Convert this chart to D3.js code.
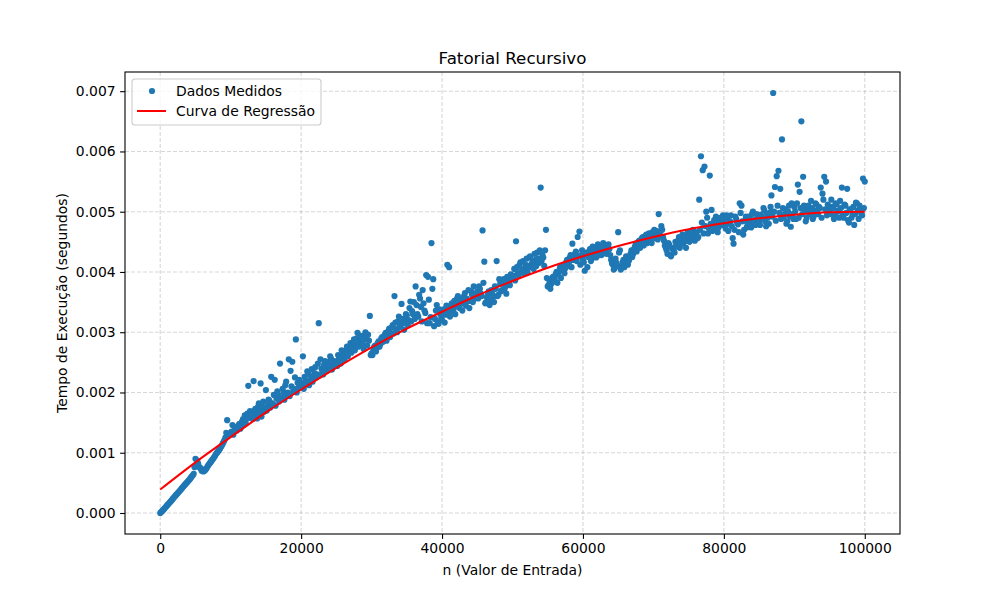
<!DOCTYPE html>
<html lang="pt">
<head>
<meta charset="utf-8">
<title>Fatorial Recursivo</title>
<script src="https://d3js.org/d3.v7.min.js"></script>
<style>
  body { margin: 0; background: #fff; }
  text { font-family: "DejaVu Sans", sans-serif; fill: #000; }
  .tick text { font-size: 13.9px; }
  .grid line { stroke: #b0b0b0; stroke-opacity: 0.5; stroke-width: 1.1; stroke-dasharray: 4,2; }
</style>
</head>
<body>
<div id="chart"></div>
<script>
// valores de entrada (n), primeira serie de medicoes
var entradas = [
  0,250,500,750,1000,1250,1500,1750,2000,2250,2500,2750,3000,3250,3500,3750,4000,4250,4500,4750,
  5000,5250,5500,5750,6000,6250,6500,6750,7000,7250,7500,7750,8000,8250,8500,8750,9000,9250,9500,9750,
  10000,10250,10500,10750,11000,11250,11500,11750,12000,12250,12500,12750,13000,13250,13500,13750,14000,14250,14500,14750,
  15000,15250,15500,15750,16000,16250,16500,16750,17000,17250,17500,17750,18000,18250,18500,18750,19000,19250,19500,19750,
  20000,20250,20500,20750,21000,21250,21500,21750,22000,22250,22500,22750,23000,23250,23500,23750,24000,24250,24500,24750,
  25000,25250,25500,25750,26000,26250,26500,26750,27000,27250,27500,27750,28000,28250,28500,28750,29000,29250,29500,29750,
  30000,30250,30500,30750,31000,31250,31500,31750,32000,32250,32500,32750,33000,33250,33500,33750,34000,34250,34500,34750,
  35000,35250,35500,35750,36000,36250,36500,36750,37000,37250,37500,37750,38000,38250,38500,38750,39000,39250,39500,39750,
  40000,40250,40500,40750,41000,41250,41500,41750,42000,42250,42500,42750,43000,43250,43500,43750,44000,44250,44500,44750,
  45000,45250,45500,45750,46000,46250,46500,46750,47000,47250,47500,47750,48000,48250,48500,48750,49000,49250,49500,49750,
  50000,50250,50500,50750,51000,51250,51500,51750,52000,52250,52500,52750,53000,53250,53500,53750,54000,54250,54500,54750,
  55000,55250,55500,55750,56000,56250,56500,56750,57000,57250,57500,57750,58000,58250,58500,58750,59000,59250,59500,59750,
  60000,60250,60500,60750,61000,61250,61500,61750,62000,62250,62500,62750,63000,63250,63500,63750,64000,64250,64500,64750,
  65000,65250,65500,65750,66000,66250,66500,66750,67000,67250,67500,67750,68000,68250,68500,68750,69000,69250,69500,69750,
  70000,70250,70500,70750,71000,71250,71500,71750,72000,72250,72500,72750,73000,73250,73500,73750,74000,74250,74500,74750,
  75000,75250,75500,75750,76000,76250,76500,76750,77000,77250,77500,77750,78000,78250,78500,78750,79000,79250,79500,79750,
  80000,80250,80500,80750,81000,81250,81500,81750,82000,82250,82500,82750,83000,83250,83500,83750,84000,84250,84500,84750,
  85000,85250,85500,85750,86000,86250,86500,86750,87000,87250,87500,87750,88000,88250,88500,88750,89000,89250,89500,89750,
  90000,90250,90500,90750,91000,91250,91500,91750,92000,92250,92500,92750,93000,93250,93500,93750,94000,94250,94500,94750,
  95000,95250,95500,95750,96000,96250,96500,96750,97000,97250,97500,97750,98000,98250,98500,98750,99000,99250,99500,99750,
  100000
];

// tempos da primeira serie, em microssegundos
var temposUs = [
  0,30,60,95,130,160,195,230,265,300,330,365,400,435,470,500,535,570,610,650,
  900,870,770,740,720,700,730,780,820,860,900,940,990,1030,1070,1120,1180,1250,1540,1300,
  1330,1460,1360,1390,1430,1480,1440,1560,1620,1580,2110,1690,1650,2190,1730,1570,1820,2150,1760,1680,
  2040,1790,1860,2260,1810,2210,1900,1960,2480,1920,2010,2120,1960,2550,2360,2510,2060,2880,2160,2210,
  2090,2600,2260,2140,2310,2190,2390,2240,2420,2300,3150,2550,2340,2460,2380,2510,2420,2560,2470,2520,
  2500,2620,2560,2700,2640,2590,2760,2680,2820,2740,2880,2790,2990,2850,2920,2800,2950,2880,2960,3270,
  2650,2700,2780,2740,2850,2800,2920,2880,2990,2930,3060,2980,3120,3600,3050,3180,3100,3470,3220,3150,
  3280,3200,3510,3350,3500,3760,3300,3620,3420,3700,3360,3950,3920,3150,4480,3880,3220,3450,3140,3300,
  3200,3380,3290,4120,4080,3420,3350,3520,3460,3600,3400,3550,3480,3650,3560,3700,3520,3620,3760,3580,
  3680,3760,3640,4690,4170,3500,3620,3450,3700,3580,3760,4180,3620,3800,3700,3880,3760,3920,3820,3960,
  3880,4050,4510,3980,4120,4000,4180,4060,4220,4100,4260,4140,4050,4200,4320,4150,5400,4280,4100,4700,
  3760,3850,3800,3920,3880,4000,3960,4080,4030,4120,4060,4200,4150,4280,4470,4220,4340,4580,4670,4280,
  4200,4020,4320,4250,4380,4220,4300,4400,4260,4350,4420,4300,4450,4340,4420,4380,4200,4120,4060,4150,
  4660,4360,4100,4200,4150,4250,4180,4300,4250,4380,4470,4420,4520,4460,4580,4500,4620,4540,4600,4480,
  4640,4560,4680,4960,4600,4700,4520,4400,4300,4450,4260,4380,4320,4460,4520,4400,4560,4480,4600,4520,
  4580,4640,4540,4600,4660,4560,5200,5920,5690,5750,5000,4640,5600,5030,4760,4700,4820,4740,4900,4780,
  4860,4720,4900,4800,4940,4560,4700,4880,4790,5140,5100,4620,4850,4740,4920,4800,4960,4860,4780,4900,
  4820,4950,4880,5020,4760,4900,4980,5270,6970,5410,5590,5680,5380,6200,4900,5040,4840,5100,4750,4960,
  5080,4880,5450,5330,6500,5580,5020,4900,5100,4960,5060,4920,5140,5000,5080,5400,5300,5580,5500,5120,
  5000,5200,5060,4950,5120,5020,5180,5400,4900,5100,5380,4820,5040,4960,4780,5150,5020,5100,4960,5550,
  5500
];

// segunda serie de medicoes, intercalada
var entradas2 = [
  125,375,625,875,1125,1375,1625,1875,2125,2375,2625,2875,3125,3375,3625,3875,4125,4375,4625,4875,
  5125,5375,5625,5875,6125,6375,6625,6875,7125,7375,7625,7875,8125,8375,8625,8875,9125,9375,9625,9875,
  10125,10375,10625,10875,11125,11375,11625,11875,12125,12375,12625,12875,13125,13375,13625,13875,14125,14375,14625,14875,
  15125,15375,15625,15875,16125,16375,16625,16875,17125,17375,17625,17875,18125,18375,18625,18875,19125,19375,19625,19875,
  20125,20375,20625,20875,21125,21375,21625,21875,22125,22375,22625,22875,23125,23375,23625,23875,24125,24375,24625,24875,
  25125,25375,25625,25875,26125,26375,26625,26875,27125,27375,27625,27875,28125,28375,28625,28875,29125,29375,29625,29875,
  30125,30375,30625,30875,31125,31375,31625,31875,32125,32375,32625,32875,33125,33375,33625,33875,34125,34375,34625,34875,
  35125,35375,35625,35875,36125,36375,36625,36875,37125,37375,37625,37875,38125,38375,38625,38875,39125,39375,39625,39875,
  40125,40375,40625,40875,41125,41375,41625,41875,42125,42375,42625,42875,43125,43375,43625,43875,44125,44375,44625,44875,
  45125,45375,45625,45875,46125,46375,46625,46875,47125,47375,47625,47875,48125,48375,48625,48875,49125,49375,49625,49875,
  50125,50375,50625,50875,51125,51375,51625,51875,52125,52375,52625,52875,53125,53375,53625,53875,54125,54375,54625,54875,
  55125,55375,55625,55875,56125,56375,56625,56875,57125,57375,57625,57875,58125,58375,58625,58875,59125,59375,59625,59875,
  60125,60375,60625,60875,61125,61375,61625,61875,62125,62375,62625,62875,63125,63375,63625,63875,64125,64375,64625,64875,
  65125,65375,65625,65875,66125,66375,66625,66875,67125,67375,67625,67875,68125,68375,68625,68875,69125,69375,69625,69875,
  70125,70375,70625,70875,71125,71375,71625,71875,72125,72375,72625,72875,73125,73375,73625,73875,74125,74375,74625,74875,
  75125,75375,75625,75875,76125,76375,76625,76875,77125,77375,77625,77875,78125,78375,78625,78875,79125,79375,79625,79875,
  80125,80375,80625,80875,81125,81375,81625,81875,82125,82375,82625,82875,83125,83375,83625,83875,84125,84375,84625,84875,
  85125,85375,85625,85875,86125,86375,86625,86875,87125,87375,87625,87875,88125,88375,88625,88875,89125,89375,89625,89875,
  90125,90375,90625,90875,91125,91375,91625,91875,92125,92375,92625,92875,93125,93375,93625,93875,94125,94375,94625,94875,
  95125,95375,95625,95875,96125,96375,96625,96875,97125,97375,97625,97875,98125,98375,98625,98875,99125,99375,99625,99875
];

var temposUs2 = [
  15,45,78,112,145,178,212,248,282,315,348,382,418,452,485,518,552,590,625,760,
  780,820,750,700,690,710,750,800,840,880,920,970,1010,1050,1100,1150,1210,1330,1280,1310,
  1350,1300,1420,1370,1460,1400,1520,1480,1500,1650,1580,1640,1560,1700,1620,1760,1680,1600,1850,1720,
  1700,1880,1750,1820,1960,1780,2020,1850,1900,2060,1880,2180,2000,1940,2100,2020,2250,2000,2080,2140,
  2150,2060,2200,2350,2120,2260,2180,2320,2250,2480,2280,2400,2300,2520,2360,2440,2600,2380,2500,2440,
  2440,2560,2480,2620,2540,2700,2600,2760,2660,2820,2700,2900,2760,2940,2860,2720,3000,2780,2860,2620,
  2620,2760,2680,2820,2760,2900,2840,2960,2860,3020,2920,3080,2980,3160,3000,3260,3080,3150,3040,3300,
  3120,3400,3180,3300,3220,3450,3260,3560,3180,3480,3320,3150,3540,3250,3720,3100,3360,3160,3380,3220,
  3300,3160,3440,3340,3260,3480,3380,3300,3560,3420,3520,3360,3600,3440,3520,3400,3680,3500,3560,3640,
  3560,3720,3600,3820,3480,3580,3680,3520,3640,3500,3720,3600,3880,3680,3820,3720,3640,3860,3780,3900,
  3940,3860,4080,3940,4160,4040,3980,4120,4000,4240,4080,4180,4300,4100,4220,4360,4180,4240,4360,3900,
  3780,3720,3900,3840,3960,3820,4020,3900,4100,3980,4160,4100,4240,4080,4200,4300,4180,4260,4120,4360,
  4160,4280,4080,4340,4180,4420,4320,4240,4460,4360,4280,4480,4400,4300,4460,4280,4140,4040,4220,4100,
  4320,4040,4160,4080,4260,4120,4220,4360,4300,4420,4340,4500,4400,4560,4440,4600,4480,4640,4540,4660,
  4700,4620,4540,4660,4760,4580,4440,4360,4480,4280,4400,4340,4500,4420,4580,4460,4620,4500,4400,4660,
  4500,4620,4700,4520,4640,4580,4700,4820,4640,4760,4900,4720,4800,4680,4860,4920,4660,4840,4780,4940,
  4780,4940,4680,4840,4760,4470,4920,4820,4660,4980,4840,4700,4920,4780,4880,4740,5000,4820,4960,4860,
  4780,4920,5060,4840,4960,4800,5080,4920,5000,4850,5100,4980,4880,5060,4960,4800,5000,4920,5140,4880,
  5000,5140,4900,5060,4960,5100,4840,5040,4980,5180,4880,5020,5120,4960,5060,4900,5200,5040,4940,5080,
  4960,5080,4880,5140,5000,4900,5060,4940,5120,4980,4860,5040,4900,5080,4960,5140,4880,5020,4940,5060
];

// curva de regressao
var curvaN = [0,5000,10000,15000,20000,25000,30000,35000,40000,45000,50000,
              55000,60000,65000,70000,75000,80000,85000,90000,95000,100000];
var curvaT = [0.00039,0.00084,0.00126,0.00167,0.00205,0.00241,0.00275,0.00306,0.00334,0.00361,0.00385,
              0.00407,0.00426,0.00443,0.00458,0.00471,0.00481,0.00489,0.00495,0.00499,0.00500];

var xTicks = [0,20000,40000,60000,80000,100000];
var yTicks = [0,0.001,0.002,0.003,0.004,0.005,0.006,0.007];

var W = 1000, H = 600;
var margin = {top:72, right:100, bottom:66, left:125};
var width = W - margin.left - margin.right;
var height = H - margin.top - margin.bottom;

var svg = d3.select('#chart').append('svg')
            .attr('width', W).attr('height', H);
var g = svg.append('g')
           .attr('transform', 'translate(' + margin.left + ',' + margin.top + ')');

var pontos = entradas.map(function(n, i){ return {n: n, t: temposUs[i] / 1e6}; })
  .concat(entradas2.map(function(n, i){ return {n: n, t: temposUs2[i] / 1e6}; }))
  .sort(function(a, b){ return a.n - b.n; });

var yMax = d3.max(pontos, d => d.t), yPad = yMax * 0.05;
var xScale = d3.scaleLinear().domain([-5000, 105000]).range([0, width]);
var yScale = d3.scaleLinear().domain([-yPad, yMax + yPad]).range([height, 0]);

// grade
g.append('g').attr('class', 'grid')
 .selectAll('line').data(xTicks).enter().append('line')
 .attr('x1', d => xScale(d)).attr('x2', d => xScale(d))
 .attr('y1', 0).attr('y2', height);
g.append('g').attr('class', 'grid')
 .selectAll('line').data(yTicks).enter().append('line')
 .attr('x1', 0).attr('x2', width)
 .attr('y1', d => yScale(d)).attr('y2', d => yScale(d));

// pontos
g.append('g').selectAll('circle').data(pontos).enter().append('circle')
 .attr('cx', d => xScale(d.n))
 .attr('cy', d => yScale(d.t))
 .attr('r', 3.1)
 .attr('fill', '#1f77b4');

// curva
var curva = curvaN.map(function(n, i){ return {n: n, t: curvaT[i]}; });
g.append('path').datum(curva)
 .attr('fill', 'none').attr('stroke', '#ff0000').attr('stroke-width', 2)
 .attr('d', d3.line().curve(d3.curveMonotoneX).x(d => xScale(d.n)).y(d => yScale(d.t)));

// eixos
var xAxis = d3.axisBottom(xScale).tickValues(xTicks).tickFormat(d3.format('d'))
              .tickSizeOuter(0).tickSize(4.9).tickPadding(4.5);
var yAxis = d3.axisLeft(yScale).tickValues(yTicks).tickFormat(d3.format('.3f'))
              .tickSizeOuter(0).tickSize(4.9).tickPadding(4.5);
var gx = g.append('g').attr('transform', 'translate(0,' + height + ')').call(xAxis);
var gy = g.append('g').call(yAxis);
[gx, gy].forEach(function(a){
  a.select('.domain').remove();
  a.selectAll('.tick line').attr('stroke', '#000').attr('stroke-width', 1.1);
  a.selectAll('.tick text').attr('font-family', 'DejaVu Sans').attr('font-size', '13.9px');
});

// moldura
g.append('rect').attr('x', 0).attr('y', 0).attr('width', width).attr('height', height)
 .attr('fill', 'none').attr('stroke', '#000').attr('stroke-width', 1.1);

// titulos
svg.append('text').text('Fatorial Recursivo')
   .attr('x', margin.left + width / 2).attr('y', 64)
   .attr('text-anchor', 'middle').style('font-size', '16.7px');
svg.append('text').text('n (Valor de Entrada)')
   .attr('x', margin.left + width / 2).attr('y', 575)
   .attr('text-anchor', 'middle').style('font-size', '13.9px');
svg.append('text').text('Tempo de Execução (segundos)')
   .attr('transform', 'translate(67,' + (margin.top + height / 2) + ') rotate(-90)')
   .attr('text-anchor', 'middle').style('font-size', '13.9px');

// legenda
var leg = svg.append('g').attr('transform', 'translate(132,79)');
leg.append('rect').attr('width', 189).attr('height', 46).attr('rx', 3)
   .attr('fill', '#fff').attr('fill-opacity', 0.8)
   .attr('stroke', '#cccccc').attr('stroke-width', 1.1);
leg.append('circle').attr('cx', 20).attr('cy', 12).attr('r', 3.1).attr('fill', '#1f77b4');
leg.append('text').text('Dados Medidos').attr('x', 44).attr('y', 17).style('font-size', '13.9px');
leg.append('line').attr('x1', 5).attr('x2', 34).attr('y1', 32).attr('y2', 32)
   .attr('stroke', '#ff0000').attr('stroke-width', 2);
leg.append('text').text('Curva de Regressão').attr('x', 44).attr('y', 37).style('font-size', '13.9px');
</script>
</body>
</html>
